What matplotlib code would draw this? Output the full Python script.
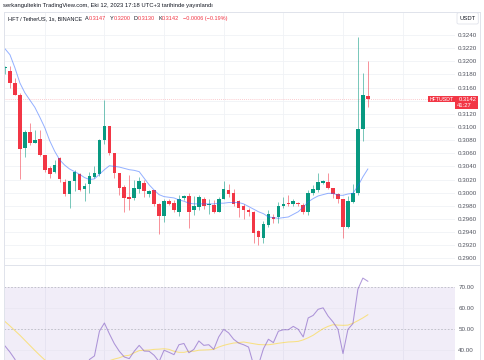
import numpy as np
import matplotlib
matplotlib.use('Agg')
import matplotlib.pyplot as plt
from matplotlib.patches import Rectangle, FancyBboxPatch
from matplotlib.lines import Line2D

plt.rcParams['font.family'] = ['Liberation Sans', 'DejaVu Sans']

# HFT/USDT 1s candles
opens = [0.3190, 0.3185, 0.3167, 0.3149, 0.3068, 0.3093, 0.3076, 0.3081, 0.3057, 0.3038,
         0.3031, 0.3053, 0.3017, 0.2998, 0.3018, 0.3028, 0.3005, 0.3013, 0.3024, 0.3028,
         0.3080, 0.3101, 0.3060, 0.3030, 0.3009, 0.2993, 0.2992, 0.3005, 0.3015, 0.2998,
         0.3004, 0.2982, 0.2964, 0.2988, 0.2984, 0.2971, 0.2992, 0.2995, 0.2973, 0.2978,
         0.2990, 0.2981, 0.2981, 0.2971, 0.2991, 0.3004, 0.3000, 0.2987, 0.2979, 0.2974,
         0.2971, 0.2941, 0.2931, 0.2951, 0.2963, 0.2963, 0.2979, 0.2984, 0.2983, 0.2984,
         0.2981, 0.2971, 0.2999, 0.3004, 0.3014, 0.3017, 0.3007, 0.2998, 0.2990, 0.2947,
         0.2986, 0.2999, 0.3097, 0.3147]
highs = [0.3193, 0.3193, 0.3175, 0.3151, 0.3095, 0.3106, 0.3095, 0.3095, 0.3057, 0.3041,
         0.3050, 0.3055, 0.3021, 0.3018, 0.3035, 0.3030, 0.3014, 0.3032, 0.3041, 0.3082,
         0.3141, 0.3102, 0.3061, 0.3030, 0.3012, 0.3027, 0.3019, 0.3024, 0.3019, 0.3004,
         0.3004, 0.2984, 0.2990, 0.2990, 0.2989, 0.2996, 0.2997, 0.2999, 0.2995, 0.2997,
         0.2993, 0.2990, 0.2989, 0.2993, 0.3018, 0.3013, 0.3006, 0.2989, 0.2983, 0.2976,
         0.2972, 0.2943, 0.2957, 0.2974, 0.2968, 0.2986, 0.2993, 0.2997, 0.2990, 0.2986,
         0.2984, 0.3004, 0.3012, 0.3030, 0.3019, 0.3030, 0.3007, 0.2999, 0.2991, 0.2995,
         0.3013, 0.3237, 0.3182, 0.3200]
lows = [0.3180, 0.3160, 0.3148, 0.3021, 0.3054, 0.3073, 0.3075, 0.3056, 0.3031, 0.3022,
        0.3030, 0.3017, 0.2995, 0.2977, 0.3003, 0.3003, 0.2988, 0.2999, 0.3023, 0.3025,
        0.3074, 0.3058, 0.3022, 0.2997, 0.2971, 0.2973, 0.2989, 0.2999, 0.2993, 0.2993,
        0.2979, 0.2937, 0.2956, 0.2981, 0.2971, 0.2964, 0.2989, 0.2946, 0.2966, 0.2974,
        0.2975, 0.2968, 0.2969, 0.2970, 0.2990, 0.2994, 0.2979, 0.2963, 0.2960, 0.2965,
        0.2923, 0.2921, 0.2923, 0.2948, 0.2954, 0.2954, 0.2976, 0.2979, 0.2980, 0.2979,
        0.2968, 0.2966, 0.2997, 0.3001, 0.3013, 0.3005, 0.2992, 0.2984, 0.2931, 0.2946,
        0.2985, 0.2997, 0.3078, 0.3130]
closes = [0.3191, 0.3167, 0.3149, 0.3066, 0.3093, 0.3075, 0.3080, 0.3057, 0.3035, 0.3028,
          0.3042, 0.3021, 0.2998, 0.3018, 0.3031, 0.3004, 0.3010, 0.3025, 0.3030, 0.3080,
          0.3102, 0.3060, 0.3030, 0.3007, 0.2992, 0.2990, 0.3007, 0.3018, 0.3003, 0.3002,
          0.2982, 0.2964, 0.2988, 0.2983, 0.2973, 0.2991, 0.2995, 0.2971, 0.2979, 0.2993,
          0.2979, 0.2982, 0.2970, 0.2991, 0.3005, 0.2998, 0.2983, 0.2977, 0.2973, 0.2971,
          0.2939, 0.2932, 0.2952, 0.2967, 0.2960, 0.2979, 0.2982, 0.2982, 0.2987, 0.2982,
          0.2970, 0.3000, 0.3005, 0.3017, 0.3018, 0.3007, 0.2998, 0.2990, 0.2947, 0.2988,
          0.2999, 0.3097, 0.3148, 0.3142]

# moving average on price
ma_values = [0.3219, 0.3210, 0.3190, 0.3167, 0.3152, 0.3141, 0.3130, 0.3115, 0.3099, 0.3079,
             0.3063, 0.3050, 0.3042, 0.3036, 0.3032, 0.3028, 0.3023, 0.3020, 0.3021, 0.3028,
             0.3035, 0.3041, 0.3040, 0.3039, 0.3037, 0.3035, 0.3034, 0.3032, 0.3022, 0.3012,
             0.3004, 0.2997, 0.2994, 0.2993, 0.2992, 0.2989, 0.2987, 0.2984, 0.2983, 0.2983,
             0.2983, 0.2983, 0.2983, 0.2984, 0.2984, 0.2985, 0.2985, 0.2985, 0.2983, 0.2979,
             0.2975, 0.2971, 0.2968, 0.2963, 0.2962, 0.2961, 0.2962, 0.2963, 0.2967, 0.2971,
             0.2978, 0.2986, 0.2991, 0.2995, 0.2997, 0.2999, 0.2999, 0.2996, 0.2996, 0.2998,
             0.2999, 0.3010, 0.3024, 0.3036]

# RSI pane
rsi_values = [41.9, 39.0, 35.6, 28.5, 31.0, 30.0, 31.0, 29.5, 27.5, 26.5,
              28.0, 27.0, 25.5, 28.0, 30.0, 27.5, 28.5, 35.5, 37.2, 48.9,
              52.8, 47.7, 43.0, 39.4, 36.7, 35.9, 39.4, 42.2, 39.5, 39.4,
              37.5, 34.5, 39.9, 38.9, 37.8, 42.5, 43.1, 38.7, 40.3, 44.3,
              42.2, 42.5, 40.3, 46.2, 49.8, 48.1, 45.1, 43.3, 42.5, 41.4,
              33.0, 33.0, 40.6, 45.1, 43.5, 48.9, 49.6, 49.6, 51.2, 49.8,
              46.2, 55.2, 56.4, 59.3, 60.0, 56.1, 53.3, 49.8, 38.3, 49.8,
              52.5, 68.8, 74.1, 72.6]
rsi_ma = [53.5, 51.4, 49.2, 47.0, 44.6, 42.2, 39.8, 37.5, 35.3, 34.0,
          33.0, 32.5, 32.0, 31.8, 31.8, 32.0, 32.2, 32.5, 33.0, 33.6,
          34.3, 34.9, 35.7, 36.3, 37.2, 37.5, 38.7, 39.7, 39.9, 40.0,
          40.3, 40.4, 40.6, 40.3, 39.4, 38.9, 38.9, 39.4, 39.4, 39.9,
          40.0, 40.1, 40.3, 41.4, 42.2, 42.8, 43.3, 43.5, 43.8, 43.4,
          43.0, 42.6, 42.5, 42.5, 42.8, 43.2, 43.5, 43.8, 43.9, 44.1,
          44.8, 45.8, 47.0, 48.6, 50.1, 51.2, 52.0, 51.8, 51.7, 51.8,
          52.7, 53.9, 55.2, 56.7]

price_ticks = [0.2900 + 0.002 * k for k in range(18)]
rsi_ticks = [40, 50, 60, 70]
time_grid = [8, 20, 32, 44, 56, 68, 80]

UP = '#089981'
DOWN = '#f23645'
GRID = '#f0f2f6'
BORDER = '#e0e3eb'
TXT = '#131722'

W, H = 485, 360


def fx(x):
    return x / W


def fy(y):
    return 1 - y / H


fig = plt.figure(figsize=(4.85, 3.6), dpi=100)
fig.patch.set_facecolor('white')

ax = fig.add_axes([fx(4.5), fy(265), (455 - 4.5) / W, (265 - 11.5) / H])
ax2 = fig.add_axes([fx(4.5), 0, (455 - 4.5) / W, (360 - 265) / H])

x = np.arange(len(opens))
o = np.array(opens)
c = np.array(closes)
hi = np.array(highs)
lo = np.array(lows)
colors = [UP if cc >= oo else DOWN for oo, cc in zip(o, c)]

# grid
for p in price_ticks:
    ax.axhline(p, color=GRID, lw=0.6, zorder=0)
for t in time_grid:
    ax.axvline(t, color=GRID, lw=0.6, zorder=0)
    ax2.axvline(t, color=GRID, lw=0.6, zorder=0)

# candles
ax.vlines(x, lo, hi, colors=colors, linewidth=0.7, alpha=0.55, zorder=2)
body_h = np.maximum(np.abs(c - o), 0.00004)
ax.bar(x, body_h, bottom=np.minimum(o, c), width=0.72, color=colors, linewidth=0, zorder=3)
ax.plot(x, ma_values, color='#2962ff', lw=0.7, alpha=0.5, zorder=4)
ax.axhline(closes[-1], color=DOWN, lw=0.6, ls=(0, (1, 1.5)), alpha=0.35, zorder=1)

ax.set_xlim(-0.1, 90.54)
ax.set_ylim(0.28899, 0.32758)
ax.yaxis.tick_right()
ax.set_yticks(price_ticks)
# 0.3140 sits under the last-price label
ax.set_yticklabels(['' if abs(p - 0.314) < 1e-6 else '%.4f' % p for p in price_ticks])
ax.tick_params(axis='y', length=0, pad=2.3, labelsize=4.5, labelcolor='#50535e')
ax.set_xticks([])
for s in ax.spines.values():
    s.set_visible(False)

# RSI
ax2.axhspan(30, 70, color='#7e57c2', alpha=0.1, lw=0, zorder=0)
for v in [40, 60]:
    ax2.axhline(v, color='#e9e6f2', lw=0.5, zorder=1)
for v in [30, 50, 70]:
    ax2.axhline(v, color='#9598a1', lw=0.6, ls=(0, (2, 2)), alpha=0.6, zorder=1)
ax2.plot(x, rsi_values, color='#7e57c2', lw=0.75, alpha=0.6, zorder=3)
ax2.plot(x, rsi_ma, color='#fdd835', lw=0.75, alpha=0.6, zorder=2)
ax2.set_xlim(-0.1, 90.54)
ax2.set_ylim(35.26, 80.3)
ax2.yaxis.tick_right()
ax2.set_yticks(rsi_ticks)
ax2.set_yticklabels(['%.2f' % v for v in rsi_ticks])
ax2.tick_params(axis='y', length=0, pad=2.3, labelsize=4.5, labelcolor='#50535e')
ax2.set_xticks([])
for s in ax2.spines.values():
    s.set_visible(False)

# frame lines
for (x0, y0, x1, y1) in [(4.5, 11.5, 480, 11.5), (4.5, 11.5, 4.5, 360), (480, 11.5, 480, 360),
                         (4.5, 265, 480, 265)]:
    fig.add_artist(Line2D([fx(x0), fx(x1)], [fy(y0), fy(y1)], color=BORDER, lw=0.7,
                          transform=fig.transFigure))

# header texts
fig.text(fx(3), fy(6), 'serkangultekin TradingView.com, Eki 12, 2023 17:18 UTC+3 tarihinde yayınlandı',
         fontsize=4.2, color=TXT, va='center')
chg = closes[-1] - closes[-2]
pct = chg / closes[-2] * 100
head = [('HFT / TetherUS, 1s, BINANCE', TXT, 3.0),
        ('A', TXT, 0.4), ('%.4f' % opens[-1], DOWN, 3.0),
        ('Y', TXT, 0.4), ('%.4f' % highs[-1], DOWN, 3.0),
        ('D', TXT, 0.4), ('%.4f' % lows[-1], DOWN, 3.0),
        ('K', TXT, 0.4), ('%.4f' % closes[-1], DOWN, 4.0),
        ('%.4f (%.2f%%)' % (chg, pct), DOWN, 0)]
renderer = fig.canvas.get_renderer()
hx = 8.0
for s, col, gap in head:
    t = fig.text(fx(hx), fy(18.3), s.replace('-', '\u2212'), fontsize=4.0, color=col, va='center')
    hx += t.get_window_extent(renderer).width + gap

# USDT button
fig.add_artist(FancyBboxPatch((fx(457), fy(24)), 21.3 / W, 11.3 / H,
                              boxstyle='round,pad=0,rounding_size=0.004',
                              transform=fig.transFigure, facecolor='white', edgecolor=BORDER, lw=0.6))
fig.text(fx(467.6), fy(18.4), 'USDT', fontsize=4.2, color=TXT, ha='center', va='center')

# last price labels
fig.add_artist(Rectangle((fx(427.7), fy(102.3)), 27.3 / W, 6.6 / H, transform=fig.transFigure,
                         facecolor=DOWN, lw=0))
fig.text(fx(429.3), fy(99.1), 'HFTUSDT', fontsize=3.8, color='white', va='center')
fig.add_artist(Rectangle((fx(455), fy(108.7)), 23.3 / W, 13 / H, transform=fig.transFigure,
                         facecolor=DOWN, lw=0))
fig.text(fx(458.5), fy(99.1), '%.4f' % closes[-1], fontsize=4.2, color='white', va='center')
fig.text(fx(457), fy(105.2), '41:27', fontsize=4.2, color='white', va='center')

fig.savefig('out.png', dpi=100)
